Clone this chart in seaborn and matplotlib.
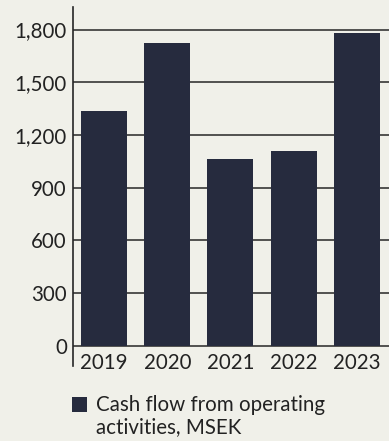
import matplotlib
matplotlib.use("Agg")
import matplotlib.pyplot as plt
import seaborn as sns
import pandas as pd

years = ["2019", "2020", "2021", "2022", "2023"]
cash_flow = [1335, 1722, 1063, 1108, 1780]
y_ticks = [0, 300, 600, 900, 1200, 1500, 1800]
y_tick_labels = ["0", "300", "600", "900", "1,200", "1,500", "1,800"]
legend_label = "Cash flow from operating\nactivities, MSEK"

BG = "#f0f0e9"
BAR = "#262b3e"
INK = "#222222"
FS = 14.8

sns.set_theme(style="white")
plt.rcParams["font.family"] = ["Lato", "DejaVu Sans"]

df = pd.DataFrame({"year": years, "value": cash_flow})

W, H, DPI = 389, 441, 100
fig = plt.figure(figsize=(W / DPI, H / DPI), dpi=DPI, facecolor=BG)
ax = fig.add_axes([72.5 / W, 1 - 366 / H, (W - 72.5) / W, (366 - 7) / H])
ax.set_facecolor(BG)

sns.barplot(data=df, x="year", y="value", color=BAR, saturation=1,
            width=0.73, ax=ax, label=legend_label, zorder=3,
            linewidth=0, edgecolor=BAR)

ax.set_xlim(-0.5, 4.51)
ax.set_ylim(-114, 1928)
ax.set_yticks(y_ticks)
ax.set_yticklabels(y_tick_labels)
ax.set_xlabel("")
ax.set_ylabel("")

ax.yaxis.grid(True, color="#262626", linewidth=1.1, zorder=1)
ax.xaxis.grid(False)
for side in ["top", "right", "bottom"]:
    ax.spines[side].set_visible(False)
ax.spines["left"].set_color("#262626")
ax.spines["left"].set_linewidth(1.2)

ax.tick_params(axis="y", length=0, pad=4, labelsize=FS, labelcolor=INK)
ax.tick_params(axis="x", length=0, pad=-9.4, labelsize=FS, labelcolor=INK)

leg = ax.legend(loc="upper left", bbox_to_anchor=(72 / W, 1 - 395 / H),
                bbox_transform=fig.transFigure, frameon=False, fontsize=FS,
                handlelength=0.74, handleheight=0.74, handletextpad=0.45,
                labelcolor=INK, borderaxespad=0, borderpad=0)
for t in leg.get_texts():
    t.set_linespacing(1.1)
# align the swatch with the first line of the label
handle = leg.legend_handles[0]
handle.set_y(handle.get_y() + 9.0)

fig.savefig("out.png", dpi=DPI, facecolor=BG)
